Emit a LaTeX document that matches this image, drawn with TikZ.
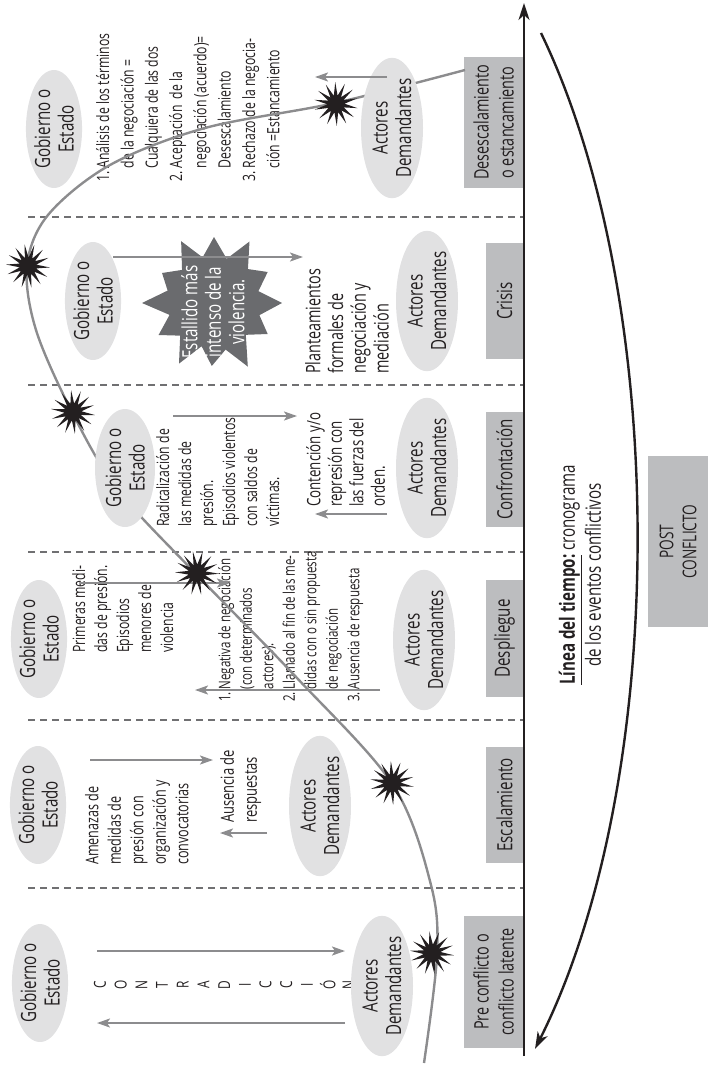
\documentclass[tikz,border=0pt]{standalone}
\usepackage{fontspec}
\setmainfont{Open Sans}[FakeStretch=0.72]
\usetikzlibrary{shapes.geometric,arrows.meta}
\definecolor{ellfill}{HTML}{E1E1E2}
\definecolor{boxfill}{HTML}{BCBDBF}
\definecolor{linegray}{HTML}{8C8C8E}
\definecolor{dashgray}{HTML}{707072}
\definecolor{burst}{HTML}{6A6B6E}
\definecolor{ink}{HTML}{231F20}
\tikzset{
  ell/.style={ellipse, fill=ellfill, rotate=90, inner sep=0pt, align=center,
    text=ink, font=\fontsize{21}{23.5}\selectfont},
  gob/.style={ell, minimum width=118pt, minimum height=56pt},
  act/.style={ell, minimum width=124pt, minimum height=62pt},
  stage/.style={rectangle, fill=boxfill, rotate=90, inner sep=0pt, align=center,
    text=ink, font=\fontsize{21}{25}\selectfont},
  note/.style={rotate=90, anchor=north west, inner sep=0pt, align=left,
    text=ink, font=\fontsize{17}{22}\selectfont},
  divider/.style={draw=dashgray, line width=2.2pt, dash pattern=on 7pt off 5pt},
  garrow/.style={draw=linegray, line width=2pt,
    -{Stealth[length=13pt,width=9pt,inset=3pt]}},
  pathline/.style={draw=linegray, line width=2.4pt},
  axisline/.style={draw=ink, line width=2.2pt, -{Stealth[length=17pt,width=11pt,inset=5pt]}},
  returnarc/.style={draw=ink, line width=2.4pt, -{Stealth[length=17pt,width=11pt,inset=5pt]}},
  burststar/.style={star, star points=14, star point ratio=2.6, minimum size=44pt,
    inner sep=0pt, fill=ink},
  letter/.style={rotate=90, inner sep=0pt, text=ink, font=\fontsize{16.5}{16.5}\selectfont}
}
\begin{document}
\begin{tikzpicture}[x=1pt,y=-1pt]
\useasboundingbox (0,0) rectangle (710,1065);

% stage dividers
\foreach \yy in {217,385,552,720,888}
  \draw[divider] (28,\yy) -- (524,\yy);

% stage labels along the time line
\node[stage, font=\fontsize{20}{25}\selectfont, minimum width=131pt, minimum height=59pt] (sDes) at (493.5,122.5) {Desescalamiento\\o estancamiento};
\node[stage, minimum width=116pt, minimum height=37pt] (sCri) at (504.5,301) {Crisis};
\node[stage, minimum width=115pt, minimum height=37pt] (sCon) at (504.5,469.5) {Confrontación};
\node[stage, minimum width=117pt, minimum height=37pt] (sDsp) at (504.5,638.5) {Despliegue};
\node[stage, minimum width=116pt, minimum height=37pt] (sEsc) at (504.5,805) {Escalamiento};
\node[stage, font=\fontsize{20}{25}\selectfont, minimum width=132pt, minimum height=59pt] (sPre) at (493.5,982) {Pre conflicto o\\conflicto latente};
\node[stage, minimum width=171pt, minimum height=60pt, font=\fontsize{19}{23}\selectfont] (post) at (678,541.5) {POST\\CONFLICTO};

% time line and return arc
\coordinate (tEnd) at (524,1056);
\coordinate (tTop) at (524,3);
\draw[axisline] (tEnd) -- (tTop);
\coordinate (arcA) at (541,33);
\coordinate (arcB) at (535,1049);
\draw[returnarc] (arcA) .. controls (670,300) and (670,780) .. (arcB);
\node[rotate=90, align=center, inner sep=0pt, text=ink, font=\fontsize{21}{26}\selectfont] (tl) at (580,575)
  {\underline{\textbf{Línea del tiempo:}} cronograma\\de los eventos conflictivos};

% crisis burst: irregular twelve-pointed outline
\coordinate (cb) at (214,303);
\fill[burst, shift={(cb)}]
  (0:68) -- (15:47) -- (30:62) -- (45:45) -- (62:72) -- (76:48)
  -- (92:63) -- (106:45) -- (120:70) -- (136:47) -- (150:64) -- (165:46)
  -- (180:72) -- (195:48) -- (210:60) -- (226:46) -- (242:70) -- (256:47)
  -- (270:66) -- (286:46) -- (300:71) -- (315:48) -- (330:62) -- (345:46) -- cycle;

% text blocks
\node[note, font=\fontsize{17}{24.3}\selectfont] (tDes) at (92,182)
 {\begin{tabular}{@{}l@{\ }l@{}}
  1. & Análisis de los términos\\
     & de la negociación =\\
     & Cualquiera de las dos\\
  2. & Aceptación\ \ de la\\
     & negociación (acuerdo)=\\
     & Desescalamiento\\
  3. & Rechazo de la negocia-\\
     & ción =Estancamiento
  \end{tabular}};
\node[note, font=\fontsize{20}{22.7}\selectfont] (tCri) at (305,374) {Planteamientos\\formales de\\negociación y\\mediación};
\node[note] (tConG) at (156,527) {Radicalización de\\las medidas de\\presión.\\Episodios violentos\\con saldos de\\víctimas.};
\node[note, font=\fontsize{18.5}{21.5}\selectfont] (tConA) at (306,507) {Contención y/o\\represión con\\las fuerzas del\\orden.};
\node[note] (tDspG) at (72,653) {Primeras medi-\\das de presión.\\Episodios\\menores de\\violencia};
\node[note, font=\fontsize{16}{21.5}\selectfont] (tDspA) at (215,702)
 {\begin{tabular}{@{}l@{\ }l@{}}
  1. & Negativa de negociación\\
     & (con determinados\\
     & actores).\\
  2. & Llamado al fin de las me-\\
     & didas con o sin propuesta\\
     & de negociación\\
  3. & Ausencia de respuesta
  \end{tabular}};
\node[note, font=\fontsize{17.5}{22.5}\selectfont] (tEscG) at (85,865) {Amenazas de\\medidas de\\presión con\\organización y\\convocatorias};
\node[note, font=\fontsize{18}{23}\selectfont] (tEscA) at (220,823) {Ausencia de\\respuestas};
\node[rotate=90, align=center, inner sep=0pt, text=white, font=\fontsize{21}{23.5}\selectfont] (cbt) at (213,312) {Estallido más\\intenso de la\\violencia.};

\foreach \l [count=\i] in {C,O,N,T,R,A,D,I,C,C,I,Ó,N}
  \node[letter] (c\i) at ({100+(\i-1)*20.7},985) {\l};

% course of the conflict
\coordinate (pStart) at (424,1063);
\coordinate (pEnd) at (465,70);
\draw[pathline] plot[smooth, tension=0.55] coordinates {(pStart) (437,955) (431,885) (393,785) (297,678) (197,575) (118,490) (72,412) (36,330) (27,266) (48,215) (110,165) (205,128) (335,103) (pEnd)};

% actors
\node[gob] (gDes) at (54,129) {Gobierno o\\Estado};
\node[act] (aDes) at (392,128) {Actores\\Demandantes};
\node[gob] (gCri) at (93,301) {Gobierno o\\Estado};
\node[act] (aCri) at (427,301) {Actores\\Demandantes};
\node[gob, minimum height=60pt] (gCon) at (125,468) {Gobierno o\\Estado};
\node[act] (aCon) at (427,468) {Actores\\Demandantes};
\node[gob] (gDsp) at (39,639) {Gobierno o\\Estado};
\node[act] (aDsp) at (424,640) {Actores\\Demandantes};
\node[gob] (gEsc) at (38,805) {Gobierno o\\Estado};
\node[act] (aEsc) at (320,806) {Actores\\Demandantes};
\node[gob] (gPre) at (40,983) {Gobierno o\\Estado};
\node[act] (aPre) at (382,986) {Actores\\Demandantes};

% exchanges between the parties
\coordinate (d1) at (387,77);  \coordinate (d2) at (315,77);
\draw[garrow] (d1) -- (d2);
\coordinate (k1) at (113,257); \coordinate (k2) at (303,257);
\draw[garrow] (k1) -- (k2);
\coordinate (f1) at (173,416); \coordinate (f2) at (297,416);
\draw[garrow] (f1) -- (f2);
\coordinate (f3) at (387,514); \coordinate (f4) at (315,514);
\draw[garrow] (f3) -- (f4);
\coordinate (p1) at (80,583);  \coordinate (p2) at (230,583);
\draw[garrow] (p1) -- (p2);
\coordinate (p3) at (380,690); \coordinate (p4) at (195,690);
\draw[garrow] (p3) -- (p4);
\coordinate (e1) at (90,760);  \coordinate (e2) at (213,760);
\draw[garrow] (e1) -- (e2);
\coordinate (e3) at (267,833); \coordinate (e4) at (220,833);
\draw[garrow] (e3) -- (e4);
\coordinate (r1) at (97,951);  \coordinate (r2) at (345,951);
\draw[garrow] (r1) -- (r2);
\coordinate (r3) at (345,1023); \coordinate (r4) at (97,1023);
\draw[garrow] (r3) -- (r4);

% outbreaks along the course
\node[burststar, rotate=7] (b1) at (432,953) {};
\node[burststar, rotate=3] (b2) at (392,783) {};
\node[burststar, rotate=11] (b3) at (197,573) {};
\node[burststar, rotate=5] (b4) at (73,412) {};
\node[burststar, rotate=9] (b5) at (28,266) {};
\node[burststar, rotate=2] (b6) at (336,104) {};
\end{tikzpicture}
\end{document}
